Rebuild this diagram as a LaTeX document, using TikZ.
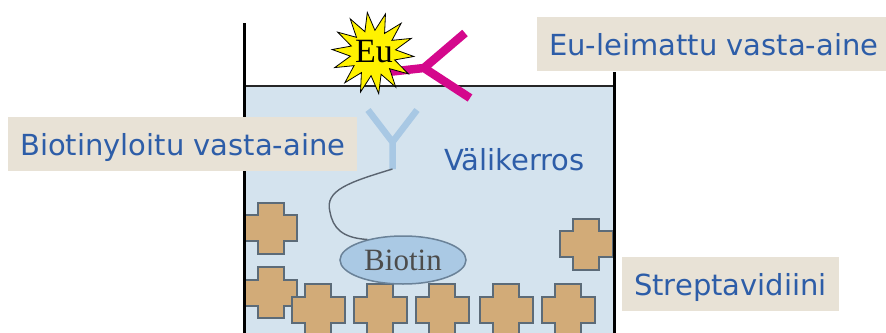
\documentclass[tikz,border=0pt]{standalone}
\usepackage{fontspec}
\setmainfont{DejaVu Sans}
\newfontfamily\serifface{Liberation Serif}
\usetikzlibrary{shapes.geometric}

\definecolor{wellfill}{RGB}{212,227,238}
\definecolor{platetan}{RGB}{210,171,120}
\definecolor{plateedge}{RGB}{92,107,120}
\definecolor{labelbg}{RGB}{232,226,214}
\definecolor{labeltext}{RGB}{45,93,168}
\definecolor{abblue}{RGB}{168,200,228}
\definecolor{biotinfill}{RGB}{170,201,228}
\definecolor{biotinedge}{RGB}{106,130,152}
\definecolor{eupink}{RGB}{212,8,140}
\definecolor{tether}{RGB}{90,100,112}

\tikzset{
  wall/.style={black, line width=3pt},
  label/.style={fill=labelbg, text=labeltext, font=\fontsize{29}{34}\selectfont,
    text height=24pt, text depth=2pt, inner xsep=12pt, inner ysep=14pt, anchor=base west},
  plate/.style={fill=platetan, draw=plateedge, line width=2pt, line join=miter},
  crossblock/.pic={
    \path[plate] (-13,-25.5) -- (13,-25.5) -- (13,-13) -- (26.5,-13) -- (26.5,13)
      -- (13,13) -- (13,25.5) -- (-13,25.5) -- (-13,13) -- (-26.5,13)
      -- (-26.5,-13) -- (-13,-13) -- cycle;
  }
}

\begin{document}
\begin{tikzpicture}[x=1pt, y=-1pt]
\useasboundingbox (0,0) rectangle (886,332);
\clip (0,0) rectangle (886,332);

% liquid layer in the well
\fill[wellfill] (244,86) rectangle (614,345);

% biotinylated antibody
\coordinate (yl) at (368,110);
\coordinate (yr) at (417,110);
\coordinate (yj) at (392.5,142);
\coordinate (ystem) at (392.5,169);
\draw[abblue, line width=6.5pt] (yl) -- (yj) (yr) -- (yj) -- (ystem);

% streptavidin coating
\pic at (270.5,228) {crossblock};
\pic at (270.5,292.5) {crossblock};
\pic at (586,244) {crossblock};
\foreach \cx in {318,380,442,506,568}
  \pic at (\cx,309.5) {crossblock};

% biotin
\node[ellipse, fill=biotinfill, draw=biotinedge, line width=1.5pt,
  minimum width=126pt, minimum height=48pt, inner sep=0pt,
  text=black!70, font=\serifface\fontsize{31}{34}\selectfont] (biotin) at (403,260) {Biotin};

% linker between antibody and biotin
\draw[tether, line width=1.4pt] (ystem) .. controls (350,182) and (324,190) .. (330,212)
  .. controls (333,228) and (342,238) .. (biotin.150);

% well walls
\draw[black!85, line width=1.5pt] (244,86) -- (614,86);
\draw[wall] (244,23) -- (244,345);
\draw[wall] (614,72) -- (614,345);

% europium-labelled antibody
\coordinate (pstem) at (388,72);
\coordinate (pj) at (424,68);
\coordinate (pu) at (465,33);
\coordinate (pd) at (470,98);
\draw[eupink, line width=8.5pt] (pstem) -- (pj) (pu) -- (pj) -- (pd);

% europium label
\node[star, star points=14, star point ratio=1.8, minimum size=82pt, inner sep=0pt,
  fill=yellow, draw=black, line width=0.8pt, rotate=8] (star) at (373,53) {};
\node[font=\serifface\fontsize{34}{36}\selectfont, text=black, inner sep=0pt] (eu) at (374,52) {Eu};

% captions
\node[label] (lbleu) at (537,55) {Eu-leimattu vasta-aine};
\node[label] (lblbio) at (8,155) {Biotinyloitu vasta-aine};
\node[label] (lblstr) at (622,295) {Streptavidiini};
\node[text=labeltext, font=\fontsize{29}{34}\selectfont, anchor=base west, inner sep=0pt]
  (layer) at (444,170) {Välikerros};
\end{tikzpicture}
\end{document}
